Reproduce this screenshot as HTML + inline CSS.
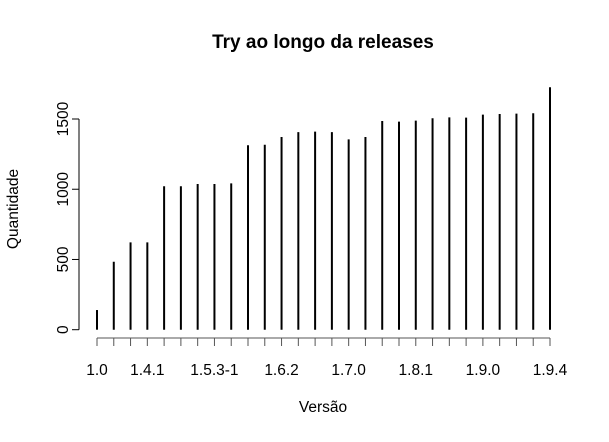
<!DOCTYPE html>
<html><head><meta charset="utf-8"><style>
body{margin:0;background:#fff}
text{font-family:"Liberation Sans",Arial,sans-serif;fill:#000}
</style></head><body>
<svg id="chart" width="609" height="437" xmlns="http://www.w3.org/2000/svg">
<text x="323" y="48" text-anchor="middle" font-size="19" font-weight="bold">Try ao longo da releases</text>
<text x="323" y="412" text-anchor="middle" font-size="15.5">Versão</text>
<text transform="translate(18,209) rotate(-90)" text-anchor="middle" font-size="15.5">Quantidade</text>
<g id="axes"></g><g id="bars"></g>
</svg>
<script>
const categories=["1.0","1.3","1.4.0","1.4.1","1.4.2","1.5.0","1.5.1","1.5.3-1","1.5.4","1.6.0","1.6.1","1.6.2","1.6.3","1.6.4","1.6.5","1.7.0","1.7.1","1.7.2","1.8.0","1.8.1","1.8.2","1.8.3","1.8.4","1.9.0","1.9.1","1.9.2","1.9.3","1.9.4"];
const values=[140,484,622,622,1021,1021,1037,1037,1042,1313,1317,1372,1407,1410,1407,1355,1372,1486,1481,1488,1505,1512,1510,1531,1536,1538,1541,1726];
const shownLabels=["1.0","1.4.1","1.5.3-1","1.6.2","1.7.0","1.8.1","1.9.0","1.9.4"];
const yTicks=[0,500,1000,1500];
const NS="http://www.w3.org/2000/svg";
const x0=97,x1=550,yZero=329.7,yPerUnit=210.7/1500;
const xs=i=>x0+i*(x1-x0)/(categories.length-1);
const ys=v=>yZero-v*yPerUnit;
function mk(tag,attrs,parent){const e=document.createElementNS(NS,tag);for(const k in attrs)e.setAttribute(k,attrs[k]);parent.appendChild(e);return e;}
const axes=document.getElementById('axes'),bars=document.getElementById('bars');
const ya=mk('line',{x1:79,x2:79,y1:ys(yTicks[0]),y2:ys(yTicks[yTicks.length-1]),stroke:'#000'},axes);


yTicks.forEach(t=>{
 const l=mk('line',{x1:72,x2:79,y1:ys(t),y2:ys(t),stroke:'#000'},axes);
 
 
 const tx=mk('text',{transform:`translate(68,${ys(t)}) rotate(-90)`,'text-anchor':'middle','font-size':'15.5'},axes);
 tx.textContent=t;
 
 
});
const xa=mk('line',{x1:xs(0),x2:xs(categories.length-1),y1:338,y2:338,stroke:'#555'},axes);


categories.forEach((c,i)=>{
 const l=mk('line',{x1:xs(i),x2:xs(i),y1:338,y2:346,stroke:'#555'},axes);
 
 
 if(shownLabels.includes(c)){
  const tx=mk('text',{x:xs(i),y:375,'text-anchor':'middle','font-size':'15.5'},axes);
  tx.textContent=c;
  
  
 }
});
values.forEach((v,i)=>{
 const b=mk('line',{x1:xs(i),x2:xs(i),y1:yZero,y2:ys(v),stroke:'#000','stroke-width':2},bars);
 
 
});
</script>
</body></html>
